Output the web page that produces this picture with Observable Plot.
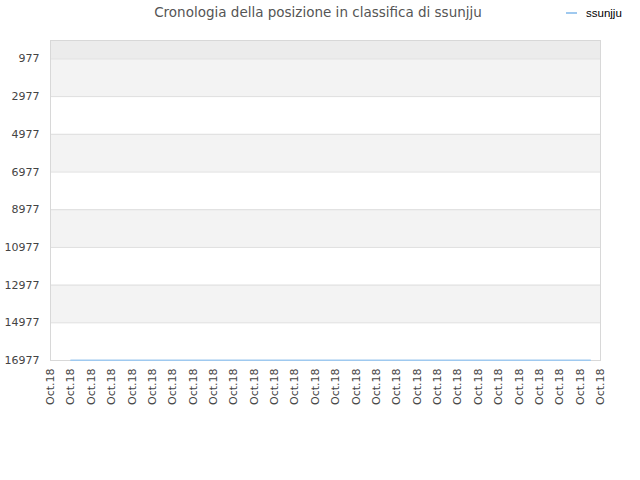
<!DOCTYPE html>
<html><head><meta charset="utf-8">
<script src="https://cdn.jsdelivr.net/npm/d3@7"></script>
<script src="https://cdn.jsdelivr.net/npm/@observablehq/plot@0.6"></script>
<style>
body{margin:0;background:#fff;}
#wrap{position:relative;width:640px;height:480px;font-family:"DejaVu Sans",sans-serif;}
#title{position:absolute;left:0;width:636px;top:4px;text-align:center;font-size:13.5px;color:#555;}
#legend{position:absolute;left:566px;top:7px;font-family:"Liberation Sans",Arial,sans-serif;font-size:11.5px;color:#000;display:flex;align-items:center;}
#legend span.sw{display:inline-block;width:11px;height:2px;background:#9fc9ef;margin-right:9px;}
#chart{position:absolute;left:0;top:0;}
</style></head>
<body><div id="wrap">
<div id="chart"></div>
<div id="title">Cronologia della posizione in classifica di ssunjju</div>
<div id="legend"><span class="sw"></span>ssunjju</div>
</div>
<script>
// tick labels along the x axis (28 ticks)
const xLabels = ["Oct.18","Oct.18","Oct.18","Oct.18","Oct.18","Oct.18","Oct.18","Oct.18","Oct.18","Oct.18","Oct.18","Oct.18","Oct.18","Oct.18","Oct.18","Oct.18","Oct.18","Oct.18","Oct.18","Oct.18","Oct.18","Oct.18","Oct.18","Oct.18","Oct.18","Oct.18","Oct.18","Oct.18"];
const xTicks = xLabels.map((d, i) => i);
// y ticks (rank)
const yTicks = [977, 2977, 4977, 6977, 8977, 10977, 12977, 14977, 16977];
// series: ssunjju rank over time (x as position along tick index)
const seriesX = [1, 26.5];
const seriesRank = [16960, 16960];
// shaded bands (rank ranges)
const bandFrom = [977, 4977, 8977, 12977];
const bandTo = [2977, 6977, 10977, 14977];
const topBandFrom = [0];
const topBandTo = [977];

const series = seriesX.map((x, i) => ({x, rank: seriesRank[i]}));
const bands = bandFrom.map((f, i) => ({from: f, to: bandTo[i]}));
const topBands = topBandFrom.map((f, i) => ({from: f, to: topBandTo[i]}));

const chart = Plot.plot({
  width: 640,
  height: 480,
  marginTop: 40,
  marginBottom: 120,
  marginLeft: 50,
  marginRight: 40,
  style: {fontFamily: "DejaVu Sans, sans-serif", fontSize: "11px", color: "#444", background: "transparent"},
  x: {domain: [0, 27], ticks: xTicks, tickFormat: i => xLabels[i], tickRotate: -90, tickSize: 0, tickPadding: 8, label: null},
  y: {domain: [0, 16977], reverse: true, ticks: yTicks, tickFormat: d => String(d), tickSize: 0, tickPadding: 11, label: null},
  marks: [
    Plot.rectY(topBands, {x1: 0, x2: 27, y1: "from", y2: "to", fill: "#ececec"}),
    Plot.rectY(bands, {x1: 0, x2: 27, y1: "from", y2: "to", fill: "#f3f3f3"}),
    Plot.ruleY(yTicks, {stroke: "#dedede", strokeWidth: 1}),
    Plot.frame({stroke: "#d8d8d8"}),
    Plot.line(series, {x: "x", y: "rank", stroke: "#9fc9ef", strokeWidth: 1.5})
  ]
});
document.getElementById("chart").appendChild(chart);
</script>
</body></html>
